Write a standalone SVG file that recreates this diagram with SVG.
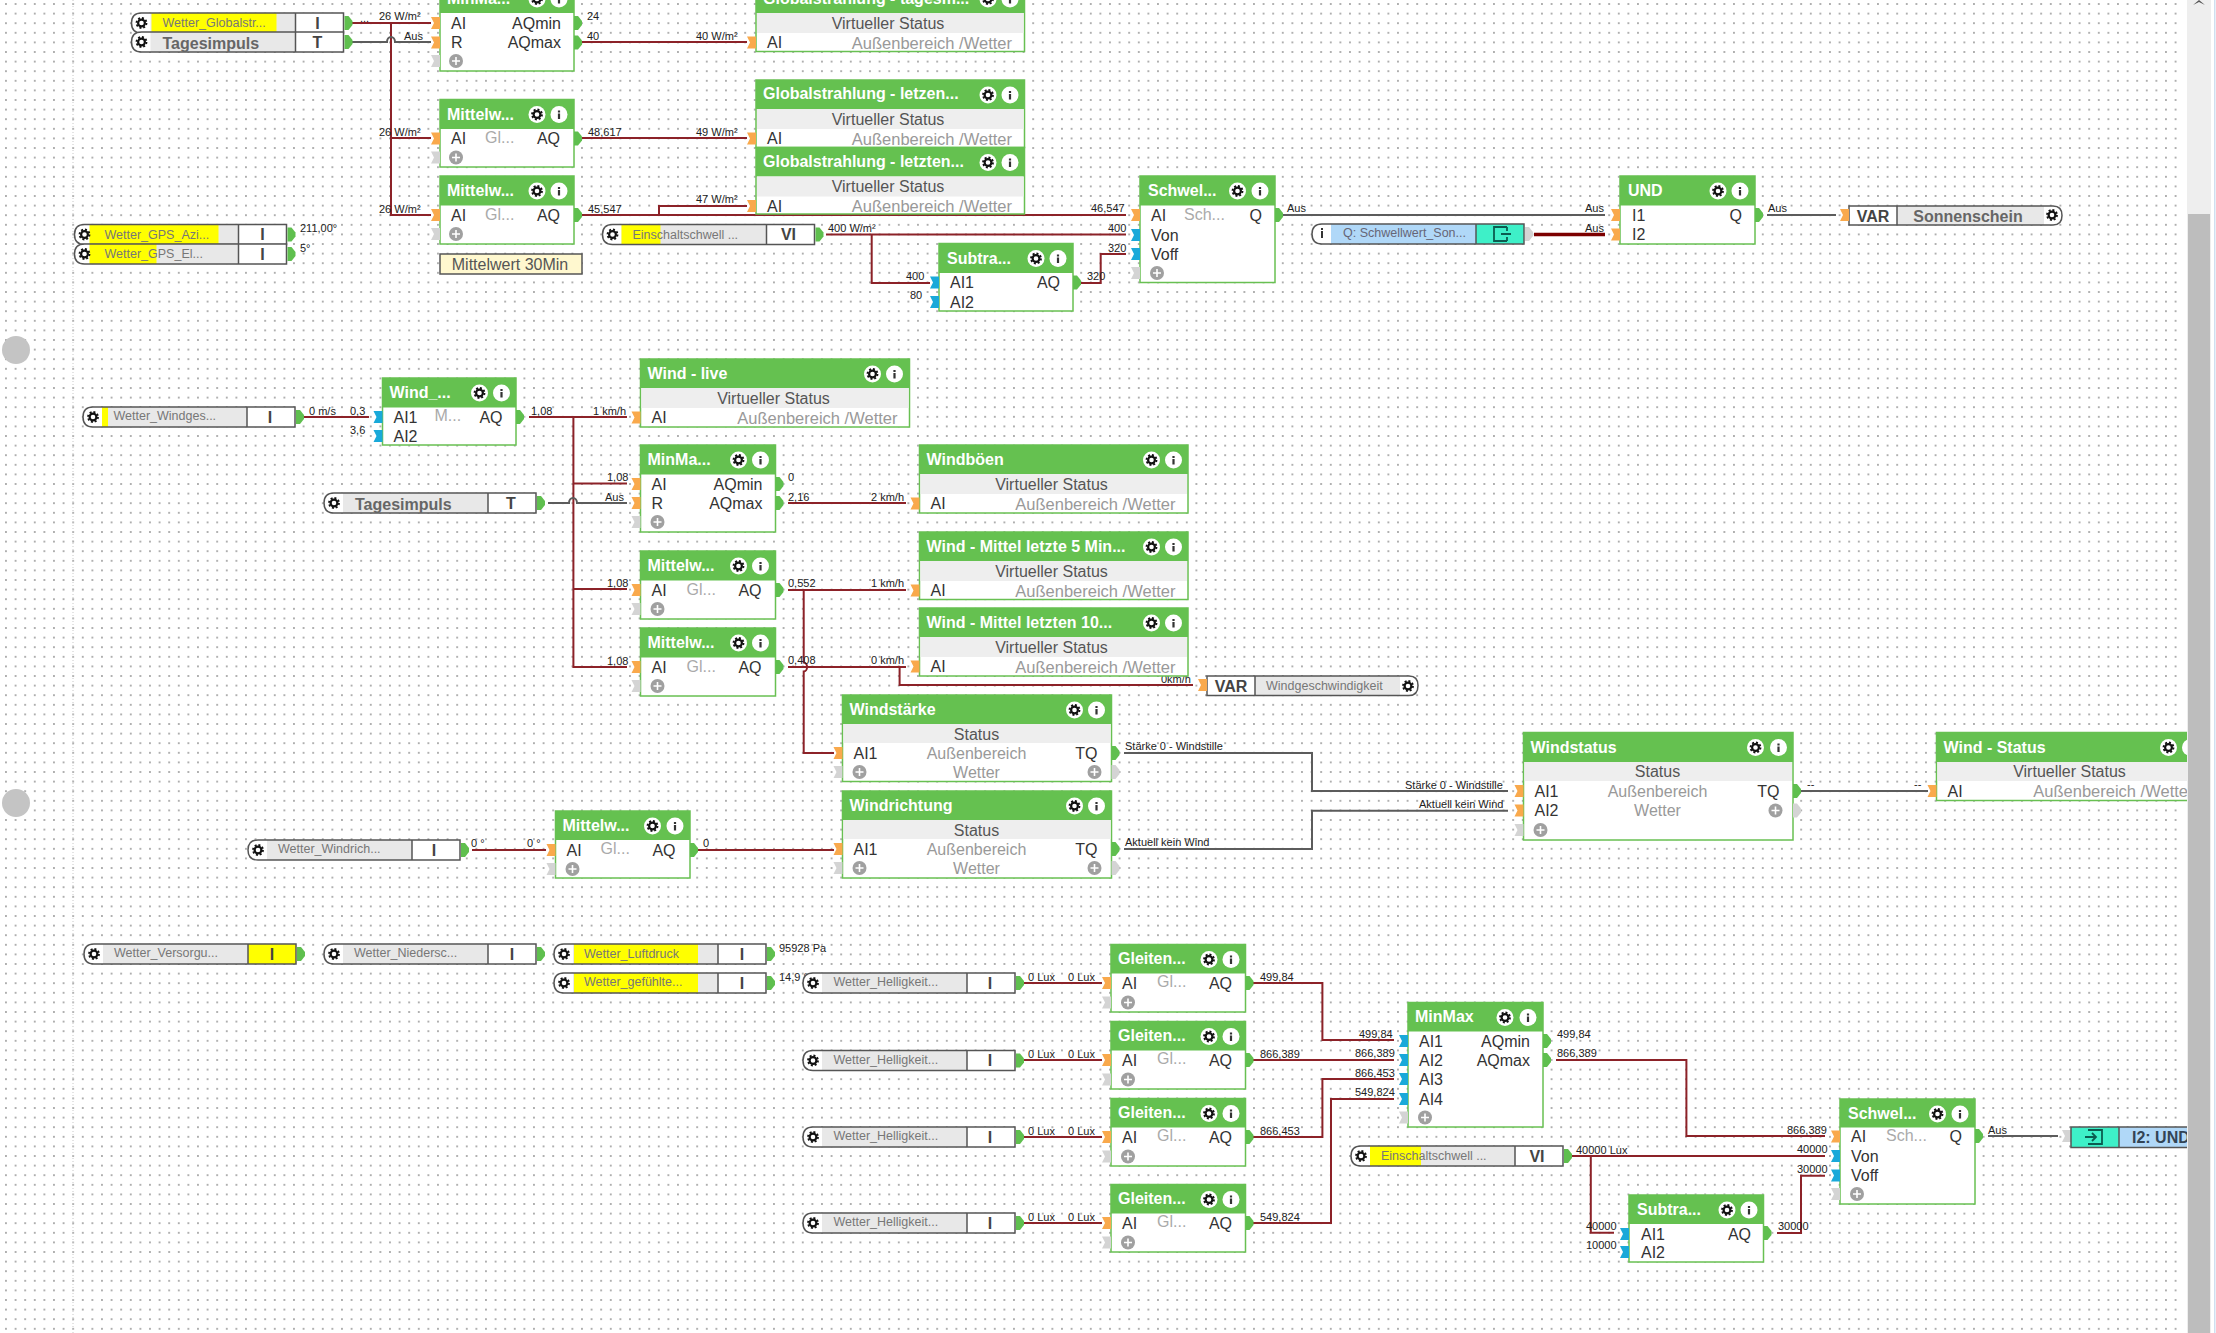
<svg xmlns="http://www.w3.org/2000/svg" width="2216" height="1333" viewBox="0 0 2216 1333">
<style>
text{font-family:"Liberation Sans",Arial,sans-serif;dominant-baseline:central}
.t{font-size:16px;font-weight:bold;fill:#fff}
.l{font-size:16px;fill:#333}
.r{font-size:16px;fill:#333;text-anchor:end}
.s{font-size:16px;fill:#aaa}
.m{font-size:16px;fill:#555;text-anchor:middle}
.L{font-size:16px;font-weight:bold;fill:#444;text-anchor:middle}
.g{font-size:16px;fill:#999;text-anchor:middle}
.e{font-size:16.500px;fill:#999;text-anchor:end}
.c{font-size:11px;fill:#222}
.n{font-size:12.500px;fill:#777}
.y{font-size:12.500px;fill:#777}
.nb{font-size:16px;font-weight:bold;fill:#666}
.bd{fill:#fff;stroke:#68c052;stroke-width:1.5}
.hd{fill:#65c150}
.st{fill:#eee}
.pil{fill:none;stroke:#555;stroke-width:1.5}
.w{fill:none;stroke:#8c2228;stroke-width:2}
.k{fill:none;stroke:#5c5c5c;stroke-width:2}
.yb{fill:#ff0}
</style>
<defs>
<pattern id="dots" patternUnits="userSpaceOnUse" x="1.2" y="-0.8" width="9.6" height="9.6"><circle cx="4.8" cy="4.8" r="1" fill="#999"/></pattern>
<g id="gear"><circle r="5" fill="none" stroke="#111" stroke-width="1.800" stroke-dasharray="2 1.900"/><circle r="3.400" fill="#fff" stroke="#111" stroke-width="2.200"/></g>
<g id="ig"><circle r="8.5" fill="#fff"/><use href="#gear"/></g>
<g id="ii"><circle r="8.5" fill="#fff"/><rect x="-1.1" y="-4" width="2.2" height="2" fill="#333"/><rect x="-1.1" y="-1" width="2.2" height="5.5" fill="#333"/></g>
<g id="pl"><circle r="7" fill="#a0a0a0"/><path d="M-4 0H4M0 -4V4" stroke="#fff" stroke-width="1.6"/></g>
<polygon id="po" points="-9,-6 0,-6 0,6 -9,6 -6,0" fill="#f9a94c"/>
<polygon id="pb" points="-9,-6 0,-6 0,6 -9,6 -6,0" fill="#19a9d9"/>
<polygon id="pg" points="-9,-6 0,-6 0,6 -9,6 -6,0" fill="#d4d4d4"/>
<path id="pq" d="M0 -7H4L8 -2V2L4 7H0Z" fill="#5fbf4e"/>
<path id="pr" d="M0 -7H4L8 -2V2L4 7H0Z" fill="#d4d4d4"/>
<g id="pa"><path fill="#fff" d="M10 0H212V20H10Q0 20 0 10Q0 0 10 0Z"/><rect x="19" width="145" height="20" fill="#e8e8e8"/></g>
<g id="pf"><path class="pil" d="M10 0H212V20H10Q0 20 0 10Q0 0 10 0Z"/><path class="pil" d="M164 0V20"/><use href="#gear" x="10" y="10"/><use href="#pq" x="213" y="10"/></g>
</defs>
<rect width="2216" height="1333" fill="#fff"/>
<rect width="2180" height="1333" fill="url(#dots)"/>
<path d="M73 0V1333" stroke="#c8c8c8" stroke-width="1" stroke-dasharray="1 2" fill="none"/>
<circle cx="16" cy="350" r="14" fill="#c4c4c4"/>
<circle cx="16" cy="803" r="14" fill="#c4c4c4"/>

<g id="connectors">
<path class="w" d="M352 23H431M391 23V215H431M391 138H431"/>
<path class="k" d="M352 42H387a4 5 0 0 1 8 0H431"/>
<path class="w" d="M582 42H747M582 138H747M582 215H1126M659 215V206H747"/>
<path class="w" d="M826 234.500H1126M871.700 234.500V283H930M1081 283H1100.700V254H1126"/>
<path class="k" d="M1283 215H1605"/>
<path d="M1534 234.500H1605" fill="none" stroke="#7c0000" stroke-width="3.500"/>
<path class="k" d="M1767 215H1836"/>
<path class="w" d="M304 417H369M529 417H627M573.400 417V667H627M573.400 483.500H627M573.400 589H627"/>
<path class="k" d="M548 503H569a4 5 0 0 1 8 0H627"/>
<path class="w" d="M788 503H906M788 590H906M788 667H906M899.600 667V685H1193"/>
<path class="w" d="M803.700 590V662.500a3 4 0 0 1 0 9V753H834"/>
<path class="k" d="M1124 753H1312V791H1508M1124 849H1312V810.700H1508"/>
<path class="k" d="M1800 791H1928"/>
<path class="w" d="M472 850H546M698 850H834"/>
<path class="w" d="M1024 983H1102M1024 1060H1102M1024 1137H1102M1024 1223H1102"/>
<path class="w" d="M1253 983H1322.400V1040H1394M1253 1060H1394M1253 1137H1322.400V1079H1394M1253 1223H1331V1099H1394"/>
<path class="w" d="M1556 1060H1686.400V1136H1825"/>
<path class="w" d="M1571 1156H1825M1590.800 1156V1232.700H1614M1777 1233H1801V1175.700H1825"/>
<path class="k" d="M1988 1136H2058"/>
<text class="c" x="360" y="18">...</text><text class="c" x="379" y="16">26 W/m²</text>
<text class="c" x="404" y="36">Aus</text><text class="c" x="379" y="132">26 W/m²</text><text class="c" x="379" y="209">26 W/m²</text>
<text class="c" x="587" y="16">24</text><text class="c" x="587" y="36">40</text><text class="c" x="696" y="36">40 W/m²</text>
<text class="c" x="588" y="132">48,617</text><text class="c" x="696" y="132">49 W/m²</text>
<text class="c" x="588" y="209">45,547</text><text class="c" x="696" y="199">47 W/m²</text>
<text class="c" x="300" y="228">211,00°</text><text class="c" x="300" y="248">5°</text>
<text class="c" x="828" y="228">400 W/m²</text><text class="c" x="1091" y="208">46,547</text><text class="c" x="1108" y="228">400</text><text class="c" x="1108" y="248">320</text>
<text class="c" x="906" y="276">400</text><text class="c" x="910" y="295">80</text><text class="c" x="1087" y="276">320</text>
<text class="c" x="1287" y="208">Aus</text><text class="c" x="1585" y="208">Aus</text><text class="c" x="1585" y="228">Aus</text><text class="c" x="1768" y="208">Aus</text>
<text class="c" x="309" y="411">0 m/s</text><text class="c" x="350" y="411">0,3</text><text class="c" x="350" y="430">3,6</text>
<text class="c" x="531" y="411">1,08</text><text class="c" x="593" y="411">1 km/h</text>
<text class="c" x="607" y="477">1,08</text><text class="c" x="605" y="497">Aus</text><text class="c" x="607" y="583">1,08</text><text class="c" x="607" y="661">1,08</text>
<text class="c" x="788" y="477">0</text><text class="c" x="788" y="497">2,16</text><text class="c" x="871" y="497">2 km/h</text>
<text class="c" x="788" y="583">0,552</text><text class="c" x="871" y="583">1 km/h</text><text class="c" x="788" y="660">0,408</text><text class="c" x="871" y="660">0 km/h</text><text class="c" x="1161" y="679">0km/h</text>
<text class="c" x="1125" y="746">Stärke 0 - Windstille</text><text class="c" x="1405" y="785">Stärke 0 - Windstille</text><text class="c" x="1419" y="804">Aktuell kein Wind</text><text class="c" x="1125" y="842">Aktuell kein Wind</text>
<text class="c" x="1807" y="784">--</text><text class="c" x="1914" y="784">--</text>
<text class="c" x="471" y="843">0 °</text><text class="c" x="527" y="843">0 °</text><text class="c" x="703" y="843">0</text>
<text class="c" x="779" y="948">95928 Pa</text><text class="c" x="779" y="977">14,9 °C</text>
<text class="c" x="1028" y="977">0 Lux</text><text class="c" x="1068" y="977">0 Lux</text><text class="c" x="1028" y="1054">0 Lux</text><text class="c" x="1068" y="1054">0 Lux</text><text class="c" x="1028" y="1131">0 Lux</text><text class="c" x="1068" y="1131">0 Lux</text><text class="c" x="1028" y="1217">0 Lux</text><text class="c" x="1068" y="1217">0 Lux</text>
<text class="c" x="1260" y="977">499,84</text><text class="c" x="1260" y="1054">866,389</text><text class="c" x="1260" y="1131">866,453</text><text class="c" x="1260" y="1217">549,824</text>
<text class="c" x="1359" y="1034">499,84</text><text class="c" x="1355" y="1053">866,389</text><text class="c" x="1355" y="1073">866,453</text><text class="c" x="1355" y="1092">549,824</text>
<text class="c" x="1557" y="1034">499,84</text><text class="c" x="1557" y="1053">866,389</text><text class="c" x="1787" y="1130">866,389</text>
<text class="c" x="1576" y="1150">40000 Lux</text><text class="c" x="1797" y="1149">40000</text><text class="c" x="1797" y="1169">30000</text>
<text class="c" x="1586" y="1226">40000</text><text class="c" x="1586" y="1245">10000</text><text class="c" x="1778" y="1226">30000</text>
<text class="c" x="1988" y="1130">Aus</text>
</g>

<g id="p-globalstr" transform="translate(131.500,13)"><use href="#pa"/><rect class="yb" x="20" width="125" height="20"/><use href="#pf"/><text class="y" x="31" y="10">Wetter_Globalstr...</text><text class="L" x="186" y="10">I</text></g>
<g id="p-tages1" transform="translate(131.500,32)"><use href="#pa"/><use href="#pf"/><text class="nb" x="31" y="11">Tagesimpuls</text><text class="L" x="186" y="10">T</text></g>
<g id="p-azi" transform="translate(74.500,224.500)"><use href="#pa"/><rect class="yb" x="15" width="129" height="20"/><use href="#pf"/><text class="y" x="30" y="10">Wetter_GPS_Azi...</text><text class="L" x="188" y="10">I</text></g>
<g id="p-el" transform="translate(74.500,244)"><use href="#pa"/><rect class="yb" x="15" width="67" height="20"/><use href="#pf"/><text class="y" x="30" y="10">Wetter_GPS_El...</text><text class="L" x="188" y="10">I</text></g>
<g id="p-ein1" transform="translate(602.500,224.500)"><use href="#pa"/><rect class="yb" x="19" width="39" height="20"/><use href="#pf"/><text class="y" x="30" y="10">Einschaltschwell ...</text><text class="L" x="186" y="10">VI</text></g>

<g id="q-pill"><path fill="#fff" d="M1322 224H1476V244H1322Q1312 244 1312 234Q1312 224 1322 224Z"/><rect x="1331" y="224" width="145" height="20" fill="#b0d8f8"/><rect x="1476" y="224" width="48" height="20" fill="#3ef0c8"/><path class="pil" d="M1322 224H1524V244H1322Q1312 244 1312 234Q1312 224 1322 224ZM1476 224V244"/><rect x="1321" y="228" width="2" height="2" fill="#333"/><rect x="1321" y="231" width="2" height="7" fill="#333"/><text class="n" x="1343" y="233" style="fill:#667">Q:  Schwellwert_Son...</text><path d="M1507 227H1494V241H1507M1507 227V231M1507 241V237M1501 234H1511" fill="none" stroke="#0b5c50" stroke-width="1.800"/><use href="#pr" x="1525" y="234"/></g>

<g id="b-minmax1" transform="translate(440,-16)"><rect class="bd" width="134" height="87"/><rect class="hd" width="134" height="29"/><text class="t" x="7" y="14">MinMa...</text><use href="#ig" x="97" y="15"/><use href="#ii" x="119" y="15"/><use href="#po" y="39"/><use href="#po" y="58.500"/><use href="#pg" y="77"/><use href="#pl" x="16" y="77"/><text class="l" x="11" y="39">AI</text><text class="l" x="11" y="58.500">R</text><text class="r" x="121" y="39">AQmin</text><text class="r" x="121" y="58.500">AQmax</text><use href="#pq" x="134" y="39"/><use href="#pq" x="134" y="58.500"/></g>
<g id="b-mw1" transform="translate(440,99.500)"><rect class="bd" width="134" height="67.500"/><rect class="hd" width="134" height="29.500"/><text class="t" x="7" y="14.500">Mittelw...</text><use href="#ig" x="97" y="15"/><use href="#ii" x="119" y="15"/><use href="#po" y="39"/><use href="#pg" y="58"/><use href="#pl" x="16" y="58"/><text class="l" x="11" y="39">AI</text><text class="s" x="45" y="38">Gl...</text><text class="r" x="120" y="39">AQ</text><use href="#pq" x="134" y="39"/></g>
<g id="b-mw2" transform="translate(440,176)"><rect class="bd" width="134" height="68"/><rect class="hd" width="134" height="29.500"/><text class="t" x="7" y="14.500">Mittelw...</text><use href="#ig" x="97" y="15"/><use href="#ii" x="119" y="15"/><use href="#po" y="39"/><use href="#pg" y="58"/><use href="#pl" x="16" y="58"/><text class="l" x="11" y="39">AI</text><text class="s" x="45" y="38">Gl...</text><text class="r" x="120" y="39">AQ</text><use href="#pq" x="134" y="39"/></g>
<g id="note"><rect x="440" y="254" width="142" height="20" fill="#fff8cf" stroke="#555" stroke-width="1.500"/><text x="510" y="264" class="m">Mittelwert 30Min</text></g>

<g id="b-gs1" transform="translate(756,-16)"><rect class="bd" width="268.500" height="67.500"/><rect class="hd" width="268.500" height="29"/><text class="t" x="7" y="14">Globalstrahlung - tagesm...</text><use href="#ig" x="232" y="15"/><use href="#ii" x="254" y="15"/><rect class="st" x="1" y="29" width="266.500" height="20"/><text class="m" x="132" y="39">Virtueller Status</text><use href="#po" y="58.500"/><text class="l" x="11" y="58.500">AI</text><text class="e" x="256" y="58.500">Außenbereich /Wetter</text></g>
<g id="b-gs2" transform="translate(756,80)"><rect class="bd" width="268.500" height="67.500"/><rect class="hd" width="268.500" height="29"/><text class="t" x="7" y="13">Globalstrahlung - letzen...</text><use href="#ig" x="232" y="15"/><use href="#ii" x="254" y="15"/><rect class="st" x="1" y="29" width="266.500" height="20"/><text class="m" x="132" y="39">Virtueller Status</text><use href="#po" y="58.500"/><text class="l" x="11" y="58.500">AI</text><text class="e" x="256" y="58.500">Außenbereich /Wetter</text></g>
<g id="b-gs3" transform="translate(756,147.500)"><rect class="bd" width="268.500" height="66.500"/><rect class="hd" width="268.500" height="29"/><text class="t" x="7" y="13.500">Globalstrahlung - letzten...</text><use href="#ig" x="232" y="15"/><use href="#ii" x="254" y="15"/><rect class="st" x="1" y="29" width="266.500" height="20"/><text class="m" x="132" y="39">Virtueller Status</text><use href="#po" y="58.500"/><text class="l" x="11" y="58.500">AI</text><text class="e" x="256" y="58.500">Außenbereich /Wetter</text></g>

<g id="b-schw1" transform="translate(1140,176)"><rect class="bd" width="135" height="106.500"/><rect class="hd" width="135" height="29.500"/><text class="t" x="8" y="14.500">Schwel...</text><use href="#ig" x="97.500" y="15"/><use href="#ii" x="120" y="15"/><use href="#po" y="39"/><use href="#pb" y="59"/><use href="#pb" y="78"/><use href="#pg" y="97"/><use href="#pl" x="17" y="97"/><text class="l" x="11" y="39">AI</text><text class="l" x="11" y="59">Von</text><text class="l" x="11" y="78">Voff</text><text class="s" x="44" y="38">Sch...</text><text class="r" x="122" y="39">Q</text><use href="#pq" x="135" y="39"/></g>
<g id="b-sub1" transform="translate(939,243.500)"><rect class="bd" width="134" height="67.500"/><rect class="hd" width="134" height="29.500"/><text class="t" x="8" y="14.500">Subtra...</text><use href="#ig" x="97" y="15"/><use href="#ii" x="119" y="15"/><use href="#pb" y="39"/><use href="#pb" y="58.500"/><text class="l" x="11" y="39">AI1</text><text class="l" x="11" y="58.500">AI2</text><text class="r" x="121" y="39">AQ</text><use href="#pq" x="134" y="39"/></g>
<g id="b-und" transform="translate(1620,176)"><rect class="bd" width="135" height="68"/><rect class="hd" width="135" height="29.500"/><text class="t" x="8" y="14.500">UND</text><use href="#ig" x="98" y="15"/><use href="#ii" x="120" y="15"/><use href="#po" y="39"/><use href="#po" y="58.500"/><text class="l" x="12" y="39">I1</text><text class="l" x="12" y="58.500">I2</text><text class="r" x="122" y="39">Q</text><use href="#pq" x="135" y="39"/></g>
<g id="v-sonne"><path fill="#fff" d="M1849 206H2053Q2062 206 2062 215.500Q2062 225 2053 225H1849Z"/><rect x="1897" y="206" width="147" height="19" fill="#e8e8e8"/><path class="pil" d="M1849 206H2053Q2062 206 2062 215.500Q2062 225 2053 225H1849ZM1897 206V225"/><text x="1873" y="216" class="L">VAR</text><text x="1968" y="216" class="nb" text-anchor="middle">Sonnenschein</text><use href="#gear" x="2052" y="215"/><use href="#po" x="1849" y="215"/></g>

<g id="p-wind" transform="translate(83,407)"><use href="#pa"/><rect class="yb" x="19" width="6" height="20"/><use href="#pf"/><text class="n" x="30.500" y="9">Wetter_Windges...</text><text class="L" x="187" y="10">I</text></g>
<g id="b-wind" transform="translate(382.500,378)"><rect class="bd" width="133.500" height="67"/><rect class="hd" width="133.500" height="29.500"/><text class="t" x="7" y="14.500">Wind_...</text><use href="#ig" x="97" y="15"/><use href="#ii" x="119" y="15"/><use href="#pb" y="39"/><use href="#pb" y="58"/><text class="l" x="11" y="39">AI1</text><text class="l" x="11" y="58">AI2</text><text class="s" x="52" y="37">M...</text><text class="r" x="120" y="39">AQ</text><use href="#pq" x="133.500" y="39"/></g>
<g id="p-tages2" transform="translate(324,493)"><use href="#pa"/><use href="#pf"/><text class="nb" x="31" y="11">Tagesimpuls</text><text class="L" x="187" y="10">T</text></g>
<g id="b-wlive" transform="translate(640.500,359)"><rect class="bd" width="269" height="68"/><rect class="hd" width="269" height="29"/><text class="t" x="7" y="14">Wind - live</text><use href="#ig" x="232" y="15"/><use href="#ii" x="254" y="15"/><rect class="st" x="1" y="29" width="267" height="20"/><text class="m" x="133" y="39">Virtueller Status</text><use href="#po" y="58.500"/><text class="l" x="11" y="58.500">AI</text><text class="e" x="257" y="58.500">Außenbereich /Wetter</text></g>
<g id="b-mm2" transform="translate(640.500,445)"><rect class="bd" width="135" height="87"/><rect class="hd" width="135" height="29.500"/><text class="t" x="7" y="14.500">MinMa...</text><use href="#ig" x="98" y="15"/><use href="#ii" x="120" y="15"/><use href="#po" y="39"/><use href="#po" y="58"/><use href="#pg" y="77"/><use href="#pl" x="17" y="77"/><text class="l" x="11" y="39">AI</text><text class="l" x="11" y="58">R</text><text class="r" x="122" y="39">AQmin</text><text class="r" x="122" y="58">AQmax</text><use href="#pq" x="135" y="39"/><use href="#pq" x="135" y="58"/></g>
<g id="b-wb" transform="translate(919.500,445)"><rect class="bd" width="268.500" height="68"/><rect class="hd" width="268.500" height="29"/><text class="t" x="7" y="14">Windböen</text><use href="#ig" x="232" y="15"/><use href="#ii" x="254" y="15"/><rect class="st" x="1" y="29" width="266.500" height="20"/><text class="m" x="132" y="39">Virtueller Status</text><use href="#po" y="58.500"/><text class="l" x="11" y="58.500">AI</text><text class="e" x="256" y="58.500">Außenbereich /Wetter</text></g>
<g id="b-mw3" transform="translate(640.500,551)"><rect class="bd" width="135" height="68"/><rect class="hd" width="135" height="29.500"/><text class="t" x="7" y="14.500">Mittelw...</text><use href="#ig" x="98" y="15"/><use href="#ii" x="120" y="15"/><use href="#po" y="39"/><use href="#pg" y="58"/><use href="#pl" x="17" y="58"/><text class="l" x="11" y="39">AI</text><text class="s" x="46" y="38">Gl...</text><text class="r" x="121" y="39">AQ</text><use href="#pq" x="135" y="39"/></g>
<g id="b-wm5" transform="translate(919.500,532)"><rect class="bd" width="268.500" height="67.500"/><rect class="hd" width="268.500" height="29"/><text class="t" x="7" y="14">Wind - Mittel letzte 5 Min...</text><use href="#ig" x="232" y="15"/><use href="#ii" x="254" y="15"/><rect class="st" x="1" y="29" width="266.500" height="20"/><text class="m" x="132" y="39">Virtueller Status</text><use href="#po" y="58.500"/><text class="l" x="11" y="58.500">AI</text><text class="e" x="256" y="58.500">Außenbereich /Wetter</text></g>
<g id="b-mw4" transform="translate(640.500,628)"><rect class="bd" width="135" height="68"/><rect class="hd" width="135" height="29.500"/><text class="t" x="7" y="14.500">Mittelw...</text><use href="#ig" x="98" y="15"/><use href="#ii" x="120" y="15"/><use href="#po" y="39"/><use href="#pg" y="58"/><use href="#pl" x="17" y="58"/><text class="l" x="11" y="39">AI</text><text class="s" x="46" y="38">Gl...</text><text class="r" x="121" y="39">AQ</text><use href="#pq" x="135" y="39"/></g>
<g id="b-wm10" transform="translate(919.500,608)"><rect class="bd" width="268.500" height="68"/><rect class="hd" width="268.500" height="29"/><text class="t" x="7" y="14">Wind - Mittel letzten 10...</text><use href="#ig" x="232" y="15"/><use href="#ii" x="254" y="15"/><rect class="st" x="1" y="29" width="266.500" height="20"/><text class="m" x="132" y="39">Virtueller Status</text><use href="#po" y="58.500"/><text class="l" x="11" y="58.500">AI</text><text class="e" x="256" y="58.500">Außenbereich /Wetter</text></g>
<g id="v-wg"><path fill="#fff" d="M1207 676H1409Q1418 676 1418 685.500Q1418 695.500 1409 695.500H1207Z"/><rect x="1255" y="676" width="145" height="19.500" fill="#e8e8e8"/><path class="pil" d="M1207 676H1409Q1418 676 1418 685.500Q1418 695.500 1409 695.500H1207ZM1255 676V695.500"/><text x="1231" y="686" class="L">VAR</text><text x="1266" y="686" class="n">Windgeschwindigkeit</text><use href="#gear" x="1408" y="686"/><use href="#po" x="1207" y="685"/></g>

<g id="b-ws" transform="translate(842.500,695)"><rect class="bd" width="269" height="86.500"/><rect class="hd" width="269" height="29"/><text class="t" x="7" y="14">Windstärke</text><use href="#ig" x="232" y="15"/><use href="#ii" x="254" y="15"/><rect class="st" x="1" y="29" width="267" height="19"/><text class="m" x="134" y="39">Status</text><use href="#po" y="58"/><use href="#pg" y="77"/><use href="#pl" x="17" y="77"/><text class="l" x="11" y="58">AI1</text><text class="g" x="134" y="58">Außenbereich</text><text class="g" x="134" y="77">Wetter</text><text class="r" x="255" y="58">TQ</text><use href="#pl" x="252" y="77"/><use href="#pq" x="269" y="58"/><use href="#pr" x="269" y="77"/></g>
<g id="b-wr" transform="translate(842.500,791)"><rect class="bd" width="269" height="87"/><rect class="hd" width="269" height="29"/><text class="t" x="7" y="14">Windrichtung</text><use href="#ig" x="232" y="15"/><use href="#ii" x="254" y="15"/><rect class="st" x="1" y="29" width="267" height="19"/><text class="m" x="134" y="39">Status</text><use href="#po" y="58"/><use href="#pg" y="77"/><use href="#pl" x="17" y="77"/><text class="l" x="11" y="58">AI1</text><text class="g" x="134" y="58">Außenbereich</text><text class="g" x="134" y="77">Wetter</text><text class="r" x="255" y="58">TQ</text><use href="#pl" x="252" y="77"/><use href="#pq" x="269" y="58"/><use href="#pr" x="269" y="77"/></g>
<g id="b-wst" transform="translate(1523.500,732.500)"><rect class="bd" width="269.500" height="107.500"/><rect class="hd" width="269.500" height="29.500"/><text class="t" x="7" y="14.500">Windstatus</text><use href="#ig" x="232" y="15"/><use href="#ii" x="255" y="15"/><rect class="st" x="1" y="29.500" width="267.500" height="19"/><text class="m" x="134" y="39">Status</text><use href="#po" y="58.500"/><use href="#po" y="78"/><use href="#pg" y="97.500"/><use href="#pl" x="17" y="97.500"/><text class="l" x="11" y="58.500">AI1</text><text class="l" x="11" y="78">AI2</text><text class="g" x="134" y="58.500">Außenbereich</text><text class="g" x="134" y="78">Wetter</text><text class="r" x="256" y="58.500">TQ</text><use href="#pl" x="252" y="78"/><use href="#pq" x="269.500" y="58.500"/><use href="#pr" x="269.500" y="78"/></g>
<g id="b-wstatus" transform="translate(1936.500,732.500)"><rect class="bd" width="269" height="68"/><rect class="hd" width="269" height="29.500"/><text class="t" x="7" y="14.500">Wind - Status</text><use href="#ig" x="232" y="15"/><use href="#ii" x="254" y="15"/><rect class="st" x="1" y="29.500" width="267" height="19"/><text class="m" x="133" y="39">Virtueller Status</text><use href="#po" y="58.500"/><text class="l" x="11" y="58.500">AI</text><text class="e" x="257" y="58.500">Außenbereich /Wetter</text></g>

<g id="p-wrich" transform="translate(248,840)"><use href="#pa"/><use href="#pf"/><text class="n" x="30" y="9">Wetter_Windrich...</text><text class="L" x="186" y="10">I</text></g>
<g id="b-mw5" transform="translate(555.500,811)"><rect class="bd" width="134.500" height="67"/><rect class="hd" width="134.500" height="29"/><text class="t" x="7" y="14">Mittelw...</text><use href="#ig" x="97" y="15"/><use href="#ii" x="119.500" y="15"/><use href="#po" y="39"/><use href="#pg" y="58"/><use href="#pl" x="17" y="58"/><text class="l" x="11" y="39">AI</text><text class="s" x="45" y="37">Gl...</text><text class="r" x="120" y="39">AQ</text><use href="#pq" x="134.500" y="39"/></g>

<g id="p-vers" transform="translate(84,944)"><use href="#pa"/><rect class="yb" x="164" width="48" height="20"/><use href="#pf"/><text class="n" x="30" y="9">Wetter_Versorgu...</text><text class="L" x="188" y="10">I</text></g>
<g id="p-nied" transform="translate(324,944)"><use href="#pa"/><use href="#pf"/><text class="n" x="30" y="9">Wetter_Niedersc...</text><text class="L" x="188" y="10">I</text></g>
<g id="p-luft" transform="translate(554,944)"><use href="#pa"/><rect class="yb" x="20" width="124" height="20"/><use href="#pf"/><text class="y" x="30" y="10">Wetter_Luftdruck</text><text class="L" x="188" y="10">I</text></g>
<g id="p-gef" transform="translate(554,973)"><use href="#pa"/><rect class="yb" x="20" width="124" height="20"/><use href="#pf"/><text class="y" x="30" y="9">Wetter_gefühlte...</text><text class="L" x="188" y="10">I</text></g>
<g id="p-h1" transform="translate(803,973)"><use href="#pa"/><use href="#pf"/><text class="n" x="30.500" y="9">Wetter_Helligkeit...</text><text class="L" x="187" y="10">I</text></g>
<g id="p-h2" transform="translate(803,1050.500)"><use href="#pa"/><use href="#pf"/><text class="n" x="30.500" y="9">Wetter_Helligkeit...</text><text class="L" x="187" y="10">I</text></g>
<g id="p-h3" transform="translate(803,1127)"><use href="#pa"/><use href="#pf"/><text class="n" x="30.500" y="9">Wetter_Helligkeit...</text><text class="L" x="187" y="10">I</text></g>
<g id="p-h4" transform="translate(803,1213)"><use href="#pa"/><use href="#pf"/><text class="n" x="30.500" y="9">Wetter_Helligkeit...</text><text class="L" x="187" y="10">I</text></g>

<g id="b-gl1" transform="translate(1111,944.500)"><rect class="bd" width="134.500" height="67.500"/><rect class="hd" width="134.500" height="29"/><text class="t" x="7" y="14">Gleiten...</text><use href="#ig" x="98" y="15"/><use href="#ii" x="120" y="15"/><use href="#po" y="38.500"/><use href="#pg" y="58"/><use href="#pl" x="17" y="58"/><text class="l" x="11" y="38.500">AI</text><text class="s" x="46" y="37">Gl...</text><text class="r" x="121" y="38.500">AQ</text><use href="#pq" x="134.500" y="38.500"/></g>
<g id="b-gl2" transform="translate(1111,1021.500)"><rect class="bd" width="134.500" height="67.500"/><rect class="hd" width="134.500" height="29"/><text class="t" x="7" y="14">Gleiten...</text><use href="#ig" x="98" y="15"/><use href="#ii" x="120" y="15"/><use href="#po" y="38.500"/><use href="#pg" y="58"/><use href="#pl" x="17" y="58"/><text class="l" x="11" y="38.500">AI</text><text class="s" x="46" y="37">Gl...</text><text class="r" x="121" y="38.500">AQ</text><use href="#pq" x="134.500" y="38.500"/></g>
<g id="b-gl3" transform="translate(1111,1098.500)"><rect class="bd" width="134.500" height="67.500"/><rect class="hd" width="134.500" height="29"/><text class="t" x="7" y="14">Gleiten...</text><use href="#ig" x="98" y="15"/><use href="#ii" x="120" y="15"/><use href="#po" y="38.500"/><use href="#pg" y="58"/><use href="#pl" x="17" y="58"/><text class="l" x="11" y="38.500">AI</text><text class="s" x="46" y="37">Gl...</text><text class="r" x="121" y="38.500">AQ</text><use href="#pq" x="134.500" y="38.500"/></g>
<g id="b-gl4" transform="translate(1111,1184.500)"><rect class="bd" width="134.500" height="67.500"/><rect class="hd" width="134.500" height="29"/><text class="t" x="7" y="14">Gleiten...</text><use href="#ig" x="98" y="15"/><use href="#ii" x="120" y="15"/><use href="#po" y="38.500"/><use href="#pg" y="58"/><use href="#pl" x="17" y="58"/><text class="l" x="11" y="38.500">AI</text><text class="s" x="46" y="37">Gl...</text><text class="r" x="121" y="38.500">AQ</text><use href="#pq" x="134.500" y="38.500"/></g>

<g id="b-mm3" transform="translate(1408,1002.500)"><rect class="bd" width="135" height="124.500"/><rect class="hd" width="135" height="29"/><text class="t" x="7" y="14">MinMax</text><use href="#ig" x="97" y="15"/><use href="#ii" x="120" y="15"/><use href="#pb" y="38.500"/><use href="#pb" y="57.500"/><use href="#pb" y="76.500"/><use href="#pb" y="96.500"/><use href="#pg" y="115"/><use href="#pl" x="17" y="115"/><text class="l" x="11" y="38.500">AI1</text><text class="l" x="11" y="57.500">AI2</text><text class="l" x="11" y="76.500">AI3</text><text class="l" x="11" y="96.500">AI4</text><text class="r" x="122" y="38.500">AQmin</text><text class="r" x="122" y="57.500">AQmax</text><use href="#pq" x="135" y="38.500"/><use href="#pq" x="135" y="57.500"/></g>
<g id="p-ein2" transform="translate(1351,1146)"><use href="#pa"/><rect class="yb" x="19" width="51" height="20"/><use href="#pf"/><text class="y" x="30" y="10">Einschaltschwell ...</text><text class="L" x="186" y="10">VI</text></g>
<g id="b-sub2" transform="translate(1629,1195)"><rect class="bd" width="134.500" height="67"/><rect class="hd" width="134.500" height="29"/><text class="t" x="8" y="14">Subtra...</text><use href="#ig" x="98" y="15"/><use href="#ii" x="120" y="15"/><use href="#pb" y="39"/><use href="#pb" y="57"/><text class="l" x="12" y="39">AI1</text><text class="l" x="12" y="57">AI2</text><text class="r" x="122" y="39">AQ</text><use href="#pq" x="134.500" y="38"/></g>
<g id="b-schw2" transform="translate(1840,1099)"><rect class="bd" width="135" height="105"/><rect class="hd" width="135" height="28.500"/><text class="t" x="8" y="14">Schwel...</text><use href="#ig" x="97.500" y="15"/><use href="#ii" x="120" y="15"/><use href="#po" y="37.500"/><use href="#pb" y="57"/><use href="#pb" y="76.500"/><use href="#pg" y="95"/><use href="#pl" x="17" y="95"/><text class="l" x="11" y="37.500">AI</text><text class="l" x="11" y="57">Von</text><text class="l" x="11" y="76.500">Voff</text><text class="s" x="46" y="36">Sch...</text><text class="r" x="122" y="37.500">Q</text><use href="#pq" x="135" y="37"/></g>
<g id="o-und"><use href="#pg" x="2071" y="1136"/><rect x="2071" y="1127" width="48" height="20.500" fill="#3ef0c8"/><rect x="2119" y="1127" width="80" height="20.500" fill="#b0d8f8"/><path class="pil" d="M2199 1127H2071V1147.500H2199M2119 1127V1147.500"/><path d="M2088 1130H2102V1144H2088M2102 1130V1144M2085 1137H2096M2092 1133L2096 1137L2092 1141" fill="none" stroke="#0b5c50" stroke-width="1.800"/><text x="2132" y="1137" style="font-size:16px;font-weight:bold;fill:#345">I2: UND</text></g>

<g id="scrollbar"><rect x="2187" width="29" height="1333" fill="#eeeeee"/><rect x="2211" width="5" height="1333" fill="#fff"/><rect x="2214" width="1.500" height="1333" fill="#cfdff0"/><rect x="2188" y="214" width="22" height="1119" fill="#bdbdbd"/><path d="M2193 5L2199 0L2205 5L2199 2Z" fill="#555"/></g>
</svg>
